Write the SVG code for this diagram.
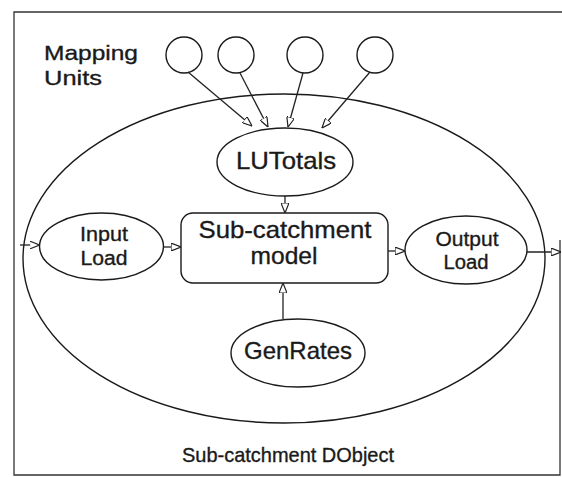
<svg xmlns="http://www.w3.org/2000/svg" width="562" height="477" viewBox="0 0 562 477">
  <defs>
    <marker id="arrow" viewBox="0 0 10 8" refX="10" refY="4" markerWidth="10" markerHeight="8" markerUnits="userSpaceOnUse" orient="auto">
      <path d="M0,0 L10,4 L0,8 Z" fill="#fff" stroke="#222" stroke-width="1.2"/>
    </marker>
    <style>
      .shape { fill: #fff; stroke: #1a1a1a; stroke-width: 1.4; }
      .outline { fill: none; stroke: #1a1a1a; stroke-width: 1.4; }
      .frame { fill: none; stroke: #333; stroke-width: 1.3; }
      .link { fill: none; stroke: #222; stroke-width: 1.3; marker-end: url(#arrow); }
      text { font-family: "Liberation Sans", Arial, Helvetica, sans-serif; fill: #1a1a1a; stroke: #1a1a1a; stroke-width: 0.35; text-anchor: middle; }
      .big { font-size: 24px; }
      .mid { font-size: 21px; }
      .small { font-size: 20px; }
    </style>
  </defs>

  <rect width="562" height="477" fill="#fff"/>

  <!-- outer frame (right side only partly drawn) -->
  <path class="frame" d="M560,240 V475 H14 V12 H562"/>

  <!-- sub-catchment container -->
  <g id="subcatchment">
    <ellipse class="outline" cx="284" cy="258.5" rx="261" ry="164.5"/>
    <text class="mid" x="288" y="462" textLength="212" lengthAdjust="spacingAndGlyphs">Sub-catchment DObject</text>
  </g>

  <g id="mapping-label">
    <text class="mid" x="44" y="60" style="text-anchor:start" textLength="94" lengthAdjust="spacingAndGlyphs">Mapping</text>
    <text class="mid" x="44" y="85" style="text-anchor:start" textLength="58" lengthAdjust="spacingAndGlyphs">Units</text>
  </g>

  <g id="unit1"><circle class="shape" cx="184" cy="55" r="18"/></g>
  <g id="unit2"><circle class="shape" cx="236" cy="55" r="18"/></g>
  <g id="unit3"><circle class="shape" cx="305" cy="55" r="18"/></g>
  <g id="unit4"><circle class="shape" cx="375" cy="55" r="18"/></g>

  <g id="lutotals">
    <ellipse class="shape" cx="285" cy="162" rx="68" ry="34"/>
    <text class="big" x="286" y="169" textLength="100" lengthAdjust="spacingAndGlyphs">LUTotals</text>
  </g>

  <g id="model">
    <rect class="shape" x="181" y="213" width="207" height="70" rx="12" ry="12"/>
    <text class="big" x="285" y="238" textLength="173" lengthAdjust="spacingAndGlyphs">Sub-catchment</text>
    <text class="big" x="284" y="264" textLength="67" lengthAdjust="spacingAndGlyphs">model</text>
  </g>

  <g id="input-load">
    <ellipse class="shape" cx="101.5" cy="246.5" rx="62" ry="33.5"/>
    <text class="small" x="104" y="241" textLength="48" lengthAdjust="spacingAndGlyphs">Input</text>
    <text class="small" x="104" y="265" textLength="47" lengthAdjust="spacingAndGlyphs">Load</text>
  </g>

  <g id="output-load">
    <ellipse class="shape" cx="466" cy="250" rx="61" ry="34"/>
    <text class="small" x="467" y="246" textLength="63" lengthAdjust="spacingAndGlyphs">Output</text>
    <text class="small" x="466" y="269" textLength="45" lengthAdjust="spacingAndGlyphs">Load</text>
  </g>

  <g id="genrates">
    <ellipse class="shape" cx="298" cy="353" rx="67" ry="34"/>
    <text class="big" x="298" y="359" textLength="108" lengthAdjust="spacingAndGlyphs">GenRates</text>
  </g>

  <g id="connectors">
    <line class="link" x1="188" y1="72" x2="252" y2="126"/>
    <line class="link" x1="240" y1="73" x2="268" y2="127"/>
    <line class="link" x1="303" y1="73" x2="288" y2="127"/>
    <line class="link" x1="370" y1="72" x2="322" y2="128"/>
    <line class="link" x1="285" y1="196" x2="285" y2="213"/>
    <line class="link" x1="283" y1="319" x2="283" y2="283"/>
    <line class="link" x1="163.5" y1="247" x2="181" y2="247"/>
    <line class="link" x1="388" y1="251" x2="405" y2="251"/>
    <line class="link" x1="20" y1="245" x2="39.5" y2="245"/>
    <line class="link" x1="527" y1="252" x2="561" y2="252"/>
  </g>
</svg>
